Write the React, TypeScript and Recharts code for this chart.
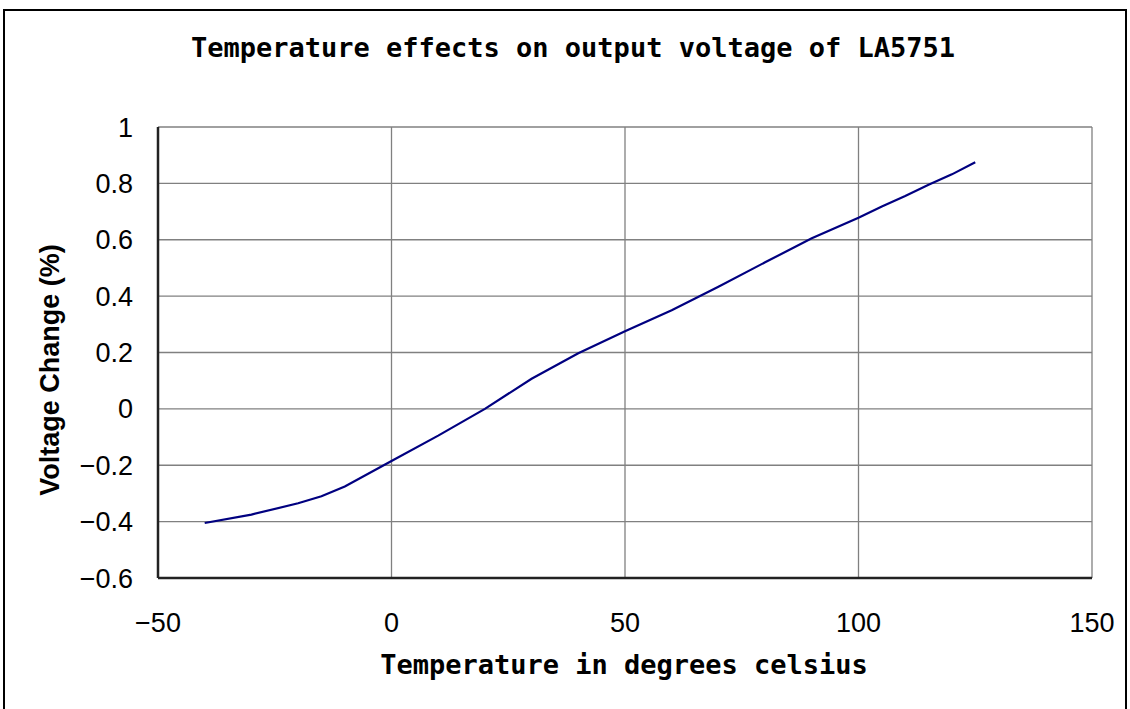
import { CartesianGrid, Line, LineChart, XAxis, YAxis } from "recharts";

const temperatures = [-40, -30, -20, -15, -10, 0, 10, 20, 30, 40, 50, 60, 70, 80, 90, 100, 105, 110, 115, 120, 125];
const voltageChange = [
  -0.405, -0.375, -0.335, -0.31, -0.275, -0.185, -0.095, 0.0, 0.107, 0.197, 0.275, 0.35, 0.433, 0.52, 0.605, 0.678,
  0.718, 0.755, 0.795, 0.832, 0.875,
];
const xTicks = [-50, 0, 50, 100, 150];
const yTicks = [-0.6, -0.4, -0.2, 0, 0.2, 0.4, 0.6, 0.8, 1];

const TITLE = "Temperature effects on output voltage of LA5751";
const X_LABEL = "Temperature in degrees celsius";
const Y_LABEL = "Voltage Change (%)";

const data = temperatures.map((t, i) => ({ t, v: voltageChange[i] }));

const W = 1130;
const H = 709;

const fmt = (n: number) => (n < 0 ? `\u2212${Math.abs(n)}` : String(n));

const tickStyle = { fontFamily: "'Liberation Sans', Arial, sans-serif", fontSize: 27, fill: "#000" };
const monoFont = "'DejaVu Sans Mono', 'Liberation Mono', monospace";

export default function App() {
  return (
    <div style={{ position: "absolute", left: 0, top: 0, width: W, height: H, background: "#fff" }}>
      <LineChart width={W} height={H} data={data} margin={{ top: 127, right: 38, bottom: 71, left: 0 }}>
        <CartesianGrid stroke="#808080" strokeWidth={1.3} verticalValues={xTicks} horizontalValues={yTicks} />
        <XAxis
          type="number"
          dataKey="t"
          domain={[-50, 150]}
          ticks={xTicks}
          height={60}
          tickFormatter={fmt}
          tick={tickStyle}
          tickSize={0}
          tickMargin={35}
          tickLine={false}
          axisLine={{ stroke: "#222", strokeWidth: 2.5 }}
          allowDataOverflow
        />
        <YAxis
          type="number"
          domain={[-0.6, 1]}
          ticks={yTicks}
          width={158}
          tickFormatter={fmt}
          tick={tickStyle}
          tickSize={0}
          tickMargin={25}
          tickLine={false}
          axisLine={{ stroke: "#222", strokeWidth: 2.5 }}
          allowDataOverflow
        />
        <Line
          type="linear"
          dataKey="v"
          stroke="#000080"
          strokeWidth={2.2}
          dot={false}
          isAnimationActive={false}
        />
      </LineChart>
      <svg width={W} height={H} style={{ position: "absolute", left: 0, top: 0, pointerEvents: "none" }}>
        <rect x={4} y={10} width={1122} height={720} fill="none" stroke="#000" strokeWidth={2} />
        <text x={573} y={57} textAnchor="middle" fontFamily={monoFont} fontWeight="bold" fontSize={27}>
          {TITLE}
        </text>
        <text x={624} y={674} textAnchor="middle" fontFamily={monoFont} fontWeight="bold" fontSize={27}>
          {X_LABEL}
        </text>
        <text
          x={59}
          y={370}
          textAnchor="middle"
          transform="rotate(-90 59 370)"
          fontFamily="'Liberation Sans', Arial, sans-serif"
          fontWeight="bold"
          fontSize={27}
        >
          {Y_LABEL}
        </text>
      </svg>
    </div>
  );
}
